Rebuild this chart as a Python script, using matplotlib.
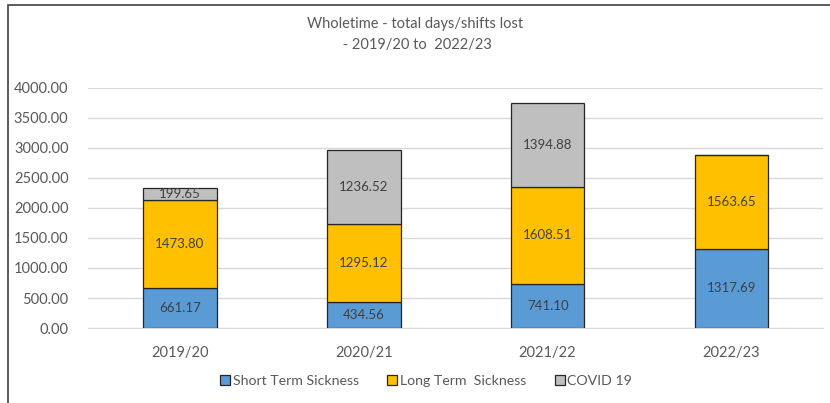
import matplotlib.pyplot as plt
from matplotlib.patches import Rectangle

years = ["2019/20", "2020/21", "2021/22", "2022/23"]
short_term = [661.17, 434.56, 741.10, 1317.69]
long_term = [1473.80, 1295.12, 1608.51, 1563.65]
covid = [199.65, 1236.52, 1394.88, 0]

plt.rcParams['font.family'] = ['Lato', 'DejaVu Sans']

fig = plt.figure(figsize=(8.3, 4.03), dpi=100)
ax = fig.add_axes([0.106, 0.186, 0.886, 0.596])

# chart border (cut off at right and bottom like the source)
fig.patches.append(Rectangle((8 / 830, -0.1), 1.2, 1 - 5 / 403 + 0.1,
                             transform=fig.transFigure, fill=False,
                             edgecolor="#404040", linewidth=1.2))

x = range(len(years))
w = 0.4
txt = "#404040"

b1 = ax.bar(x, short_term, w, color="#5B9BD5", edgecolor="#262626", linewidth=0.9,
            label="Short Term Sickness", zorder=3)
b2 = ax.bar(x, long_term, w, bottom=short_term, color="#FFC000", edgecolor="#262626",
            linewidth=0.9, label="Long Term  Sickness", zorder=3)
bottoms = [s + l for s, l in zip(short_term, long_term)]
b3 = ax.bar(x, covid, w, bottom=bottoms, color="#BFBFBF", edgecolor="#262626",
            linewidth=0.9, label="COVID 19", zorder=3)

for bars, vals, base in [(b1, short_term, [0] * 4), (b2, long_term, short_term), (b3, covid, bottoms)]:
    for rect, v, b in zip(bars, vals, base):
        if v <= 0:
            continue
        ax.text(rect.get_x() + rect.get_width() / 2, b + v / 2, f"{v:.2f}",
                ha="center", va="center", fontsize=9.5, color=txt, zorder=4)

ax.set_ylim(0, 4000)
ax.set_xlim(-0.5, 3.5)
ax.set_yticks(range(0, 4001, 500))
ax.set_yticklabels([f"{v:.2f}" for v in range(0, 4001, 500)])
ax.set_xticks(list(x))
ax.set_xticklabels(years)
ax.tick_params(length=0, labelsize=10.5, colors="#595959", pad=13)
ax.tick_params(axis="y", pad=14)
ax.grid(axis="y", color="#D9D9D9", linewidth=1, zorder=0)
for s in ["top", "right", "left"]:
    ax.spines[s].set_visible(False)
ax.spines["bottom"].set_color("#D9D9D9")

fig.text(0.5, 0.958, "Wholetime - total days/shifts lost\n - 2019/20 to  2022/23",
         ha="center", va="top", fontsize=10.5, color="#595959", linespacing=1.6)

ax.legend(loc="upper center", bbox_to_anchor=(0.46, -0.142), ncol=3, frameon=False,
          fontsize=10.2, labelcolor="#595959", handlelength=0.7, handleheight=0.7,
          handletextpad=0.2, columnspacing=2.0)

fig.savefig("out.png", dpi=100)
